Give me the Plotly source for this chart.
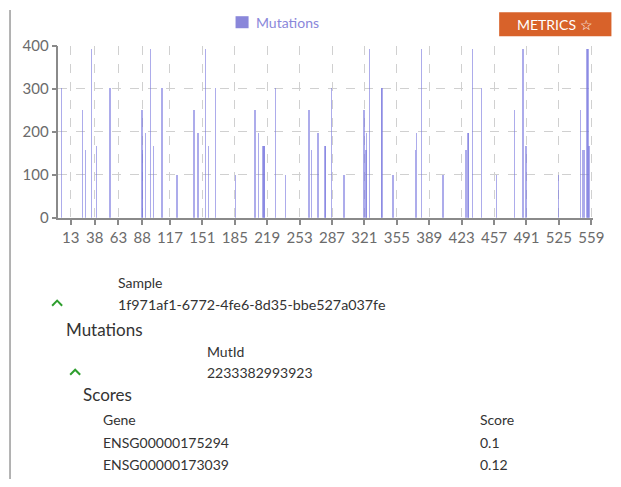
import plotly.graph_objects as go

W, H = 621, 487

# ---- data ----
positions = [4, 26, 29, 35, 40, 54, 55, 88, 89, 92, 97, 100, 109, 124, 125,
             142, 143, 146, 147, 155, 158, 165, 186, 206, 207, 210, 215, 216, 217,
             228, 239, 263, 264, 266, 272, 273, 280, 281, 287, 300, 321, 323, 324,
             327, 339, 340, 351, 352, 375, 376, 381, 404, 428, 430, 431, 435, 444,
             460, 479, 487, 488, 491, 525, 548, 550, 551, 552, 555, 556, 557]
mutations = [303, 252, 157, 392, 167, 303, 303, 252, 157, 197, 392, 167, 303, 100, 100,
             252, 252, 197, 197, 392, 167, 303, 100, 252, 252, 197, 167, 167, 167,
             303, 100, 252, 252, 157, 197, 197, 167, 167, 303, 100, 252, 157, 197,
             392, 303, 303, 100, 100, 157, 197, 392, 100, 157, 197, 197, 392, 303,
             100, 252, 392, 392, 167, 100, 252, 157, 157, 157, 392, 392, 167]
x_ticks = [13, 38, 63, 88, 117, 151, 185, 219, 253, 287, 321, 355, 389, 423, 457, 491, 525, 559]
y_ticks = [0, 100, 200, 300, 400]

sample_id = "1f971af1-6772-4fe6-8d35-bbe527a037fe"
mut_id = "2233382993923"
genes = ["ENSG00000175294", "ENSG00000173039"]
scores = ["0.1", "0.12"]

# screen position -> paper fraction (compensates the capture's slight squeeze)
SX, SY, OY = 0.98, 0.9615, 10.8

def px(x):
    return (x / SX) / W

def py(y):
    return 1 - ((y - OY) / SY) / H

BAR = "rgba(118,116,222,0.6)"
LEG = "#8a87da"
FONT = "Lato, 'Open Sans', sans-serif"

fig = go.Figure()
fig.add_trace(go.Bar(x=positions, y=mutations, width=1.3, marker=dict(color=BAR, line=dict(width=0)),
                     name="Mutations", showlegend=False))

axis_common = dict(showline=True, linecolor="#8a8a8a", linewidth=1.5, ticks="outside", ticklen=5,
                   tickcolor="#8a8a8a", tickwidth=1.5, showgrid=True, gridcolor="#d0d0d0",
                   griddash="dash", gridwidth=1, zeroline=False,
                   tickfont=dict(family=FONT, size=15, color="#6b6b6b"))

fig.update_layout(
    width=W, height=H, margin=dict(l=0, r=0, t=0, b=0), autosize=False,
    paper_bgcolor="white", plot_bgcolor="white",
    bargap=0,
    xaxis=dict(domain=[px(58.3), px(591.8)], range=[0, 561], tickmode="array", tickvals=x_ticks,
               ticktext=[str(t) for t in x_ticks], **axis_common),
    yaxis=dict(domain=[py(218.3), py(46.7)], range=[0, 400], tickmode="array", tickvals=y_ticks, **axis_common),
    font=dict(family=FONT),
)

shapes = []
# outer card border (left edge)
shapes.append(dict(type="line", xref="paper", yref="paper", x0=px(10), x1=px(10), y0=1, y1=0,
                   line=dict(color="#9a9a9a", width=1.5)))
# legend swatch
shapes.append(dict(type="rect", xref="paper", yref="paper", x0=px(235), x1=px(248), y0=py(29), y1=py(17),
                   fillcolor=LEG, line=dict(width=0)))
# metrics button
shapes.append(dict(type="rect", xref="paper", yref="paper", x0=px(498), x1=px(610), y0=py(37), y1=py(13),
                   fillcolor="#d8622a", line=dict(width=0)))
# green carets
for cx, cy in [(57, 303), (75, 372)]:
    shapes.append(dict(type="path", xref="paper", yref="paper",
                       path=f"M {px(cx-5)},{py(cy+3)} L {px(cx)},{py(cy-2)} L {px(cx+5)},{py(cy+3)}",
                       line=dict(color="#2e9e2e", width=2)))
fig.update_layout(shapes=shapes)

def txt(x, y, s, size=14, color="#333333", anchor="left"):
    return dict(x=px(x), y=py(y), xref="paper", yref="paper", text=s, showarrow=False,
                xanchor=anchor, yanchor="middle", font=dict(family=FONT, size=size, color=color))

ann = [
    txt(253, 23, "Mutations", 14, LEG),
    txt(554, 25, "METRICS ☆", 14, "white", "center"),
    txt(116, 283, "Sample"),
    txt(116, 305, sample_id, 14.3),
    txt(64, 330, "Mutations", 17),
    txt(205, 352, "MutId"),
    txt(205, 373, mut_id),
    txt(81, 395, "Scores", 17),
    txt(101, 420, "Gene"),
    txt(477, 420, "Score"),
]
for i, (g, s) in enumerate(zip(genes, scores)):
    ann.append(txt(101, 443 + 22 * i, g))
    ann.append(txt(477, 443 + 22 * i, s))
fig.update_layout(annotations=ann)

post = (
    "var d=document.getElementById('{plot_id}');"
    "d.style.position='fixed';d.style.left='0px';d.style.top='0px';"
    "document.body.style.margin='0';document.body.style.overflow='hidden';"
)
fig.write_html("out.html", config={"responsive": False, "displayModeBar": False}, post_script=post)
